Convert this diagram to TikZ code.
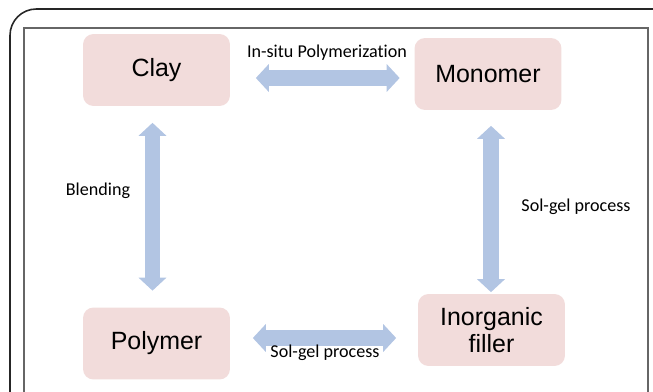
\documentclass[tikz,border=0pt]{standalone}
\usepackage{fontspec}
\setmainfont{Liberation Sans}
\newfontfamily\labelfont[Ligatures=NoCommon]{Carlito}
\usetikzlibrary{arrows.meta}

\definecolor{boxpink}{HTML}{F2DCDB}
\definecolor{arrowblue}{HTML}{B2C5E3}

\begin{document}
\begin{tikzpicture}[x=0.02cm, y=-0.02cm, line width=1pt,
    box/.style={fill=boxpink, rounded corners=6, align=center,
      minimum width=2.94cm, minimum height=1.44cm,
      font=\fontsize{14.2}{15.6}\selectfont},
    route/.style={font=\labelfont\fontsize{10.3}{12}\selectfont},
    twoway/.style={draw=arrowblue, line width=0.31cm,
      {Triangle[width=0.56cm, length=0.26cm, line width=0pt]}-{Triangle[width=0.56cm, length=0.26cm, line width=0pt]}}]

\useasboundingbox (0,0) rectangle (653,392);

% Frame
\draw[line width=0.9pt, black!85, rounded corners=15] (10,392) -- (10,9) -- (653,9);
\draw[line width=0.9pt, black!60] (24,392) -- (24,28) -- (648,28) -- (648,392);

% Materials
\node[box] (clay) at (156.5,70) {Clay};
\node[box] (monomer) at (488,74) {Monomer};
\node[box] (polymer) at (156.5,343.5) {Polymer};
\node[box] (filler) at (491.5,330) {Inorganic\\filler};

% Routes between materials
\draw[twoway] ([shift={(25,8)}]clay.east) -- ([shift={(-14,4)}]monomer.west);
\draw[twoway] ([shift={(-4,16)}]clay.south) -- ([shift={(-4,-16)}]polymer.north);
\draw[twoway] ([shift={(3,15)}]monomer.south) -- ([shift={(-0.5,-1)}]filler.north);
\draw[twoway] ([shift={(22,-5.5)}]polymer.east) -- ([shift={(-21,8)}]filler.west);

% Route labels
\node[route] (insitu) at (327,53) {In-situ Polymerization};
\node[route] (blending) at (98,191) {Blending};
\node[route] (solgelright) at (576,207) {Sol-gel process};
\node[route] (solgelbottom) at (325,353) {Sol-gel process};

\end{tikzpicture}
\end{document}
